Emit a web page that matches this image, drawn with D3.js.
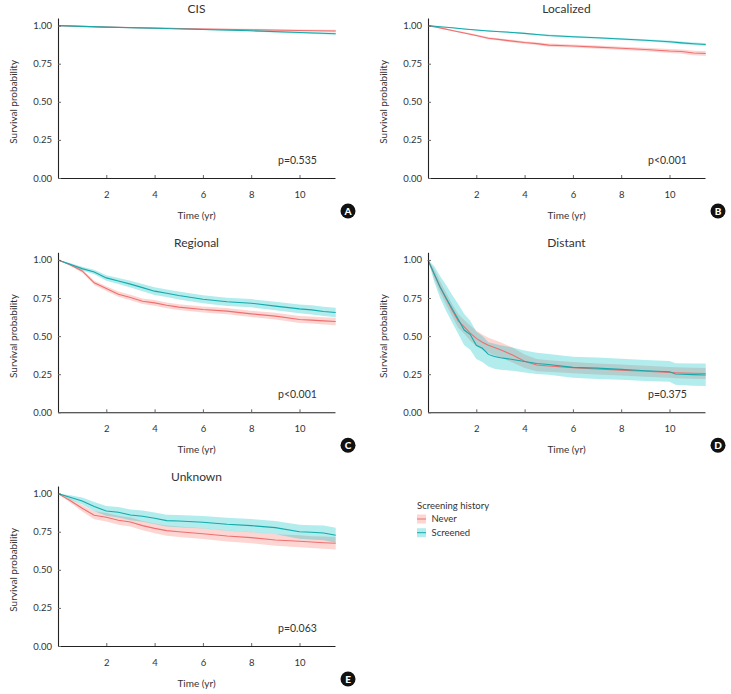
<!DOCTYPE html>
<html>
<head>
<meta charset="utf-8">
<script src="https://cdn.jsdelivr.net/npm/d3@7"></script>
<style>
  html, body { margin: 0; padding: 0; background: #fff; }
  svg { display: block; font-family: Lato, "Noto Sans", sans-serif; }
</style>
</head>
<body>
<svg id="chart" width="731" height="694"></svg>
<script>
// ---------------- DATA ----------------
const groups = ["Never", "Screened"];
const xTickValues = [2, 4, 6, 8, 10];
const yTickValues = [0, 0.25, 0.5, 0.75, 1];
const yTickLabels = ["0.00", "0.25", "0.50", "0.75", "1.00"];
const panelTitles = ["CIS", "Localized", "Regional", "Distant", "Unknown"];
const panelLetters = ["A", "B", "C", "D", "E"];
const pValues = ["p=0.535", "p<0.001", "p<0.001", "p=0.375", "p=0.063"];
const legendTitle = "Screening history";

// A: CIS
const timeA = [0, 2, 4, 6, 8, 10, 11.5];
const cisNever      = [1, 0.990, 0.984, 0.978, 0.973, 0.968, 0.965];
const cisNeverLo    = [1, 0.987, 0.980, 0.973, 0.967, 0.961, 0.957];
const cisNeverHi    = [1, 0.993, 0.988, 0.983, 0.979, 0.975, 0.973];
const cisScreened   = [1, 0.990, 0.983, 0.975, 0.966, 0.955, 0.947];
const cisScreenedLo = [1, 0.988, 0.980, 0.971, 0.961, 0.949, 0.940];
const cisScreenedHi = [1, 0.992, 0.986, 0.979, 0.971, 0.961, 0.954];

// shared time grid for B, C, E
const timeBCE = [0, 0.5, 1, 1.5, 2, 2.5, 3, 3.5, 4, 4.5, 5, 6, 7, 8, 9, 10, 10.5, 11, 11.5];

// B: Localized
const locNever      = [1, 0.985, 0.968, 0.952, 0.935, 0.917, 0.908, 0.898, 0.889, 0.882, 0.872, 0.866, 0.859, 0.851, 0.843, 0.833, 0.830, 0.820, 0.817];
const locNeverHi    = [1, 0.989, 0.973, 0.958, 0.942, 0.925, 0.916, 0.907, 0.898, 0.891, 0.882, 0.876, 0.870, 0.862, 0.855, 0.846, 0.844, 0.835, 0.833];
const locNeverLo    = [1, 0.981, 0.963, 0.946, 0.928, 0.909, 0.900, 0.889, 0.880, 0.873, 0.862, 0.856, 0.848, 0.840, 0.831, 0.820, 0.816, 0.805, 0.801];
const locScreened   = [1, 0.993, 0.986, 0.978, 0.971, 0.965, 0.960, 0.955, 0.949, 0.942, 0.935, 0.927, 0.920, 0.912, 0.904, 0.894, 0.887, 0.881, 0.876];
const locScreenedHi = [1, 0.995, 0.989, 0.981, 0.975, 0.969, 0.964, 0.960, 0.954, 0.947, 0.941, 0.933, 0.926, 0.919, 0.911, 0.902, 0.896, 0.890, 0.886];
const locScreenedLo = [1, 0.991, 0.983, 0.975, 0.967, 0.961, 0.956, 0.950, 0.944, 0.937, 0.929, 0.921, 0.914, 0.905, 0.897, 0.886, 0.878, 0.872, 0.866];

// C: Regional
const regNever      = [1, 0.968, 0.928, 0.850, 0.812, 0.775, 0.753, 0.729, 0.718, 0.702, 0.690, 0.675, 0.664, 0.646, 0.631, 0.609, 0.605, 0.600, 0.596];
const regNeverHi    = [1, 0.975, 0.939, 0.864, 0.828, 0.792, 0.771, 0.747, 0.737, 0.721, 0.709, 0.695, 0.684, 0.667, 0.653, 0.632, 0.628, 0.624, 0.621];
const regNeverLo    = [1, 0.961, 0.917, 0.836, 0.796, 0.758, 0.735, 0.711, 0.699, 0.683, 0.671, 0.655, 0.644, 0.625, 0.609, 0.586, 0.582, 0.576, 0.571];
const regScreened   = [1, 0.972, 0.943, 0.921, 0.882, 0.862, 0.841, 0.818, 0.795, 0.781, 0.766, 0.742, 0.725, 0.716, 0.697, 0.679, 0.672, 0.662, 0.655];
const regScreenedHi = [1, 0.980, 0.955, 0.936, 0.900, 0.882, 0.863, 0.842, 0.820, 0.806, 0.792, 0.768, 0.752, 0.743, 0.725, 0.708, 0.702, 0.692, 0.686];
const regScreenedLo = [1, 0.964, 0.931, 0.906, 0.864, 0.842, 0.819, 0.794, 0.770, 0.756, 0.740, 0.716, 0.698, 0.689, 0.669, 0.650, 0.642, 0.632, 0.624];

// D: Distant
const timeD = [0, 0.25, 0.5, 0.75, 1, 1.25, 1.5, 1.75, 2, 2.25, 2.5, 2.75, 3, 3.5, 4, 4.5, 5, 6, 7, 8, 9, 10, 10.25, 11, 11.5];
const disNever      = [1, 0.910, 0.823, 0.745, 0.670, 0.600, 0.560, 0.520, 0.485, 0.460, 0.440, 0.425, 0.410, 0.376, 0.335, 0.310, 0.304, 0.293, 0.284, 0.277, 0.269, 0.262, 0.260, 0.256, 0.255];
const disNeverHi    = [1, 0.940, 0.860, 0.785, 0.710, 0.645, 0.605, 0.570, 0.535, 0.510, 0.490, 0.475, 0.460, 0.425, 0.380, 0.350, 0.342, 0.330, 0.320, 0.313, 0.305, 0.298, 0.296, 0.292, 0.291];
const disNeverLo    = [1, 0.880, 0.786, 0.705, 0.630, 0.555, 0.515, 0.470, 0.435, 0.410, 0.390, 0.375, 0.360, 0.327, 0.290, 0.270, 0.266, 0.256, 0.248, 0.241, 0.233, 0.226, 0.224, 0.220, 0.219];
const disScreened   = [1, 0.910, 0.823, 0.750, 0.680, 0.610, 0.540, 0.510, 0.440, 0.420, 0.380, 0.366, 0.358, 0.347, 0.333, 0.320, 0.314, 0.295, 0.290, 0.282, 0.273, 0.266, 0.251, 0.247, 0.245];
const disScreenedHi = [1, 0.960, 0.895, 0.835, 0.770, 0.710, 0.645, 0.600, 0.530, 0.500, 0.460, 0.450, 0.440, 0.425, 0.405, 0.390, 0.382, 0.365, 0.360, 0.352, 0.343, 0.336, 0.322, 0.320, 0.320];
const disScreenedLo = [1, 0.860, 0.750, 0.665, 0.590, 0.515, 0.440, 0.410, 0.350, 0.330, 0.300, 0.285, 0.280, 0.272, 0.262, 0.252, 0.246, 0.226, 0.219, 0.213, 0.206, 0.200, 0.180, 0.175, 0.172];

// E: Unknown
const unkNever      = [1, 0.955, 0.904, 0.858, 0.845, 0.825, 0.814, 0.790, 0.772, 0.757, 0.750, 0.737, 0.722, 0.711, 0.696, 0.687, 0.682, 0.678, 0.674];
const unkNeverHi    = [1, 0.968, 0.925, 0.884, 0.873, 0.854, 0.844, 0.821, 0.804, 0.790, 0.784, 0.772, 0.758, 0.748, 0.734, 0.726, 0.721, 0.718, 0.715];
const unkNeverLo    = [1, 0.942, 0.883, 0.832, 0.817, 0.796, 0.784, 0.759, 0.740, 0.724, 0.716, 0.702, 0.686, 0.674, 0.658, 0.648, 0.643, 0.638, 0.633];
const unkScreened   = [1, 0.976, 0.952, 0.915, 0.886, 0.878, 0.860, 0.852, 0.838, 0.823, 0.820, 0.812, 0.799, 0.790, 0.777, 0.750, 0.746, 0.742, 0.727];
const unkScreenedHi = [1, 0.990, 0.975, 0.945, 0.918, 0.912, 0.895, 0.889, 0.876, 0.862, 0.860, 0.853, 0.841, 0.833, 0.821, 0.796, 0.793, 0.790, 0.776];
const unkScreenedLo = [1, 0.962, 0.929, 0.885, 0.854, 0.844, 0.825, 0.815, 0.800, 0.784, 0.780, 0.771, 0.757, 0.747, 0.733, 0.704, 0.699, 0.694, 0.678];

// ---------------- BUILD ----------------
const lineColor = { Never: "#ee6f6f", Screened: "#16a9aa" };
const bandColor = { Never: "rgba(248,118,109,0.30)", Screened: "rgba(0,191,196,0.30)" };

function mk(time, s, lo, hi) { return time.map((t, i) => ({ t, s: s[i], lo: lo[i], hi: hi[i] })); }
const panels = [
  { series: [mk(timeA, cisNever, cisNeverLo, cisNeverHi), mk(timeA, cisScreened, cisScreenedLo, cisScreenedHi)] },
  { series: [mk(timeBCE, locNever, locNeverLo, locNeverHi), mk(timeBCE, locScreened, locScreenedLo, locScreenedHi)] },
  { series: [mk(timeBCE, regNever, regNeverLo, regNeverHi), mk(timeBCE, regScreened, regScreenedLo, regScreenedHi)] },
  { series: [mk(timeD, disNever, disNeverLo, disNeverHi), mk(timeD, disScreened, disScreenedLo, disScreenedHi)] },
  { series: [mk(timeBCE, unkNever, unkNeverLo, unkNeverHi), mk(timeBCE, unkScreened, unkScreenedLo, unkScreenedHi)] },
];

const svg = d3.select("#chart");
const plotW = 277, plotH = 160;
const colX = [58, 428];
const rowAxisY = [178, 412.3, 646];

const x = d3.scaleLinear().domain([0, 11.47]).range([0, plotW]);
const y = d3.scaleLinear().domain([0, 1.05]).range([plotH, 0]);

const area = d3.area().x(d => x(d.t)).y0(d => y(d.lo)).y1(d => y(d.hi));
const line = d3.line().x(d => x(d.t)).y(d => y(d.s));

panels.forEach((p, i) => {
  const col = i % 2, row = Math.floor(i / 2);
  const g = svg.append("g").attr("transform", `translate(${colX[col]},${rowAxisY[row] - plotH})`);

  p.series.forEach((s, k) => {
    g.append("path").datum(s).attr("d", area).attr("fill", bandColor[groups[k]]).attr("stroke", "none");
  });
  p.series.forEach((s, k) => {
    g.append("path").datum(s).attr("d", line).attr("fill", "none")
      .attr("stroke", lineColor[groups[k]]).attr("stroke-width", 1.1);
  });

  const xa = g.append("g").attr("transform", `translate(0,${plotH})`)
    .call(d3.axisBottom(x).tickValues(xTickValues).tickFormat(d3.format("d"))
      .tickSize(-3).tickSizeOuter(0).tickPadding(13));
  const ya = g.append("g")
    .call(d3.axisLeft(y).tickValues(yTickValues).tickFormat((d, j) => yTickLabels[j])
      .tickSize(-3).tickSizeOuter(0).tickPadding(6));
  [xa, ya].forEach(a => {
    a.select(".domain").attr("stroke", "#222").attr("stroke-width", 1.1);
    a.selectAll(".tick line").attr("stroke", "#666");
    a.selectAll(".tick text").attr("fill", "#333").style("font-family", "Lato, sans-serif").style("font-size", "9.5px");
  });

  g.append("text").attr("x", plotW / 2).attr("y", -5).attr("text-anchor", "middle")
    .attr("fill", "#333").style("font-size", "12px").text(panelTitles[i]);
  g.append("text").attr("x", plotW / 2).attr("y", plotH + 41).attr("text-anchor", "middle")
    .attr("fill", "#333").style("font-size", "10px").text("Time (yr)");
  g.append("text").attr("transform", `translate(-41,${y(0.5)}) rotate(-90)`).attr("text-anchor", "middle")
    .attr("fill", "#333").style("font-size", "10px").text("Survival probability");
  g.append("text").attr("x", 220).attr("y", plotH - 14).attr("fill", "#333")
    .style("font-size", "10.5px").text(pValues[i]);
  const bx = plotW + 13, by = plotH + 33;
  g.append("circle").attr("cx", bx).attr("cy", by).attr("r", 7.5).attr("fill", "#111");
  g.append("text").attr("x", bx).attr("y", by + 3.6).attr("text-anchor", "middle")
    .attr("fill", "#fff").style("font-size", "10px").style("font-weight", "900").text(panelLetters[i]);
});

const lg = svg.append("g").attr("transform", "translate(417,0)");
lg.append("text").attr("x", 0).attr("y", 509).attr("fill", "#333").style("font-size", "9.5px").text(legendTitle);
groups.forEach((gname, k) => {
  const cy = 519 + k * 13.7;
  lg.append("rect").attr("x", 0).attr("y", cy - 4.5).attr("width", 9).attr("height", 9).attr("fill", bandColor[gname]);
  lg.append("line").attr("x1", 0).attr("x2", 9).attr("y1", cy).attr("y2", cy).attr("stroke", lineColor[gname]).attr("stroke-width", 1);
  lg.append("text").attr("x", 14.5).attr("y", cy + 3.3).attr("fill", "#333").style("font-size", "9.5px").text(gname);
});
</script>
</body>
</html>
